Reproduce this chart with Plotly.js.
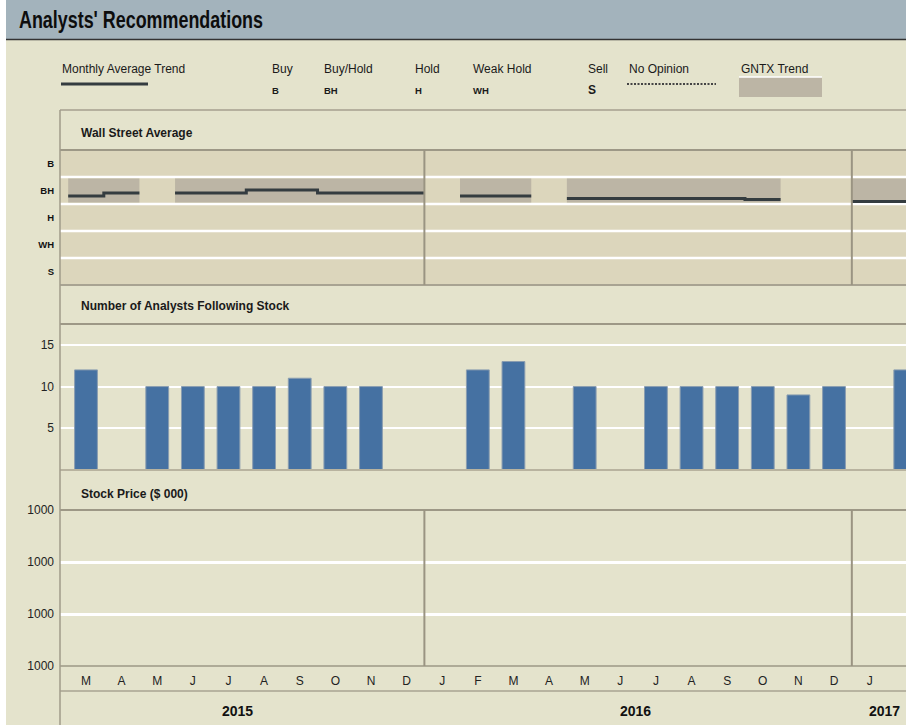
<!DOCTYPE html>
<html>
<head>
<meta charset="utf-8">
<script src="https://cdn.plot.ly/plotly-3.0.1.min.js"></script>
<style>html,body{margin:0;padding:0;background:#fff;}#chart{width:906px;height:725px;}</style>
</head>
<body>
<div id="chart"></div>
<script>
// ---- data (month index 0 = Mar 2015) ----
const monthLabels = ['M','A','M','J','J','A','S','O','N','D','J','F','M','A','M','J','J','A','S','O','N','D','J','F'];
const analystCounts = [12, null, 10, 10, 10, 10, 11, 10, 10, null, null, 12, 13, null, 10, null, 10, 10, 10, 10, 9, 10, null, 12];
const monthlyTrend = [3.80, 3.91, null, 3.91, 3.91, 4.02, 4.02, 3.91, 3.91, 3.91, null, 3.80, 3.80, null, 3.70, 3.70, 3.70, 3.70, 3.70, 3.67, null, null, 3.59, 3.59];
const gntxTrendLow = 3.56;
const gntxTrendHigh = 4.44;
const ratingLabels = ['B','BH','H','WH','S'];
const ratingValues = [5,4,3,2,1];
const priceTickVals = [0,1,2,3];
const priceTickText = ['1000','1000','1000','1000'];
const yearLabels = ['2015','2016','2017'];
const yearPos = [4.24, 15.44, 22.43];
const yearDividers = [9.5, 21.5];

// ---- helpers: pixel -> paper ----
const W = 906, H = 725;
const P = x => x / W;
const Q = y => 1 - y / H;

const idx = monthLabels.map((_, i) => i);

// step line from monthly trend
const tx = [], ty = [];
monthlyTrend.forEach((v, i) => {
  if (v === null) { tx.push(null); ty.push(null); return; }
  tx.push(i - 0.5, i + 0.5); ty.push(v, v);
});
// GNTX band polygons over contiguous months with a trend value
const bx = [], by = [];
let runStart = null;
monthlyTrend.forEach((v, i) => {
  if (v !== null && runStart === null) runStart = i;
  const endRun = runStart !== null && (i === monthlyTrend.length - 1 || monthlyTrend[i + 1] === null);
  if (v !== null && endRun) {
    const a = runStart - 0.5, b = i + 0.5;
    bx.push(a, a, b, b, a, null); by.push(gntxTrendLow, gntxTrendHigh, gntxTrendHigh, gntxTrendLow, gntxTrendLow, null);
    runStart = null;
  }
});

const barX = idx.filter(i => analystCounts[i] !== null);
const barY = barX.map(i => analystCounts[i]);

const traces = [
  {type:'scatter', x:[0], y:[null], xaxis:'x', yaxis:'y', showlegend:false, hoverinfo:'skip'},
  {type:'scatter', mode:'none', x:bx, y:by, fill:'toself', fillcolor:'#bcb5a5', xaxis:'x', yaxis:'y2', showlegend:false, hoverinfo:'skip'},
  {type:'scatter', mode:'lines', x:tx, y:ty, xaxis:'x', yaxis:'y2', connectgaps:false,
   line:{color:'#343c40', width:3}, showlegend:false, hoverinfo:'skip'},
  {type:'bar', x:barX, y:barY, width:0.64, xaxis:'x', yaxis:'y3',
   marker:{color:'#4571a2', line:{color:'#8a9db0', width:1}}, showlegend:false}
];

const border = '#a09b8a';
const shapes = [];
shapes.push({type:'rect', xref:'paper', yref:'paper', x0:0, x1:P(6), y0:0, y1:1, fillcolor:'#ffffff', line:{width:0}, layer:'below'});
shapes.push({type:'rect', xref:'paper', yref:'paper', x0:P(6), x1:1, y0:Q(39), y1:1, fillcolor:'#a3b3bc', line:{width:0}, layer:'below'});
shapes.push({type:'line', xref:'paper', yref:'paper', x0:P(6), x1:1, y0:Q(39.5), y1:Q(39.5), line:{color:'#333333', width:1.5}});
shapes.push({type:'rect', xref:'paper', yref:'paper', x0:P(60), x1:1, y0:Q(285), y1:Q(150), fillcolor:'#dcd6bc', line:{width:0}, layer:'below'});
[1.5,2.5,3.5,4.5].forEach(v => shapes.push({type:'line', xref:'paper', yref:'y2', x0:P(60), x1:1, y0:v, y1:v, line:{color:'#ffffff', width:2.5}, layer:'below'}));
const hlines = [[110,'#b5b09e',2],[150,'#9d9886',2],[285,'#a8a392',2],[324,'#9d9886',2],[470,'#b8b39f',2],[510,'#9d9886',2],[666,'#9d9886',1.5],[691,'#a8a392',1.5]];
hlines.forEach(h => shapes.push({type:'line', xref:'paper', yref:'paper', x0:P(60), x1:1, y0:Q(h[0]), y1:Q(h[0]), line:{color:h[1], width:h[2]}}));
shapes.push({type:'line', xref:'paper', yref:'paper', x0:P(60), x1:P(60), y0:0, y1:Q(110), line:{color:border, width:1.5}});
yearDividers.forEach(d => {
  shapes.push({type:'line', xref:'x', yref:'paper', x0:d, x1:d, y0:Q(285), y1:Q(150), line:{color:'#9a9482', width:2}});
  shapes.push({type:'line', xref:'x', yref:'paper', x0:d, x1:d, y0:Q(666), y1:Q(510), line:{color:'#9a9482', width:2}});
});
shapes.push({type:'line', xref:'paper', yref:'paper', x0:P(61), x1:P(148), y0:Q(84), y1:Q(84), line:{color:'#343c40', width:3}});
shapes.push({type:'line', xref:'paper', yref:'paper', x0:P(627), x1:P(716), y0:Q(84), y1:Q(84), line:{color:'#444444', width:2, dash:'2px,1.5px'}});
shapes.push({type:'rect', xref:'paper', yref:'paper', x0:P(739), x1:P(822), y0:Q(97), y1:Q(77), fillcolor:'#bcb5a5', line:{width:0}});
shapes.push({type:'line', xref:'paper', yref:'paper', x0:P(739), x1:P(822), y0:Q(77), y1:Q(77), line:{color:'#ffffff', width:1.5}});

const F = 'Liberation Sans, Arial, sans-serif';
const ann = [];
const txt = (t, x, y, size, opts) => ann.push(Object.assign({text:t, xref:'paper', yref:'paper', x:P(x), y:Q(y), xanchor:'left', yanchor:'middle', align:'left', showarrow:false, font:{family:F, size:size, color:'#1a1a1a'}}, opts || {}));

txt("<b>Analysts' Recommendations</b>", 17, 20, 23, {font:{family:F, size:23, color:'#0d0d0d'}});
txt('Monthly Average Trend', 60, 69, 12);
const legItems = [['Buy','B',270],['Buy/Hold','BH',322],['Hold','H',413],['Weak Hold','WH',471],['Sell','S',586],['No Opinion',null,627],['GNTX Trend',null,739]];
legItems.forEach(l => {
  txt(l[0], l[2], 69, 12);
  if (l[1]) txt('<b>' + l[1] + '</b>', l[2], l[1] === 'S' ? 90 : 91, l[1] === 'S' ? 12 : 9.5);
});
txt('<b>Wall Street Average</b>', 79, 133, 12);
txt('<b>Number of Analysts Following Stock</b>', 79, 306, 12);
txt('<b>Stock Price ($ 000)</b>', 79, 494, 12);
yearLabels.forEach((y, i) => ann.push({text:'<b>' + y + '</b>', xref:'x', yref:'paper', x:yearPos[i], y:Q(711), xanchor:'center', yanchor:'middle', showarrow:false, font:{family:F, size:14, color:'#111'}}));

const xr0 = (60 - 86) / 35.62, xr1 = (906 - 86) / 35.62;
const layout = {
  width: W, height: H,
  margin: {l:0, r:0, t:0, b:0, pad:0},
  paper_bgcolor: '#e4e3cc',
  plot_bgcolor: 'rgba(0,0,0,0)',
  showlegend: false,
  font: {family: F, color:'#222'},
  xaxis: {domain:[P(60), 1], range:[xr0, xr1], anchor:'y', tickmode:'array', tickvals:idx, ticktext:monthLabels,
          showgrid:false, zeroline:false, showline:false, ticks:'', ticklabelstandoff:6, tickfont:{family:F, size:12, color:'#222'}},
  yaxis: {domain:[Q(666), Q(510)], range:[0,3], anchor:'x', tickmode:'array', tickvals:priceTickVals, ticktext:priceTickText,
          showgrid:true, gridcolor:'#ffffff', gridwidth:3, zeroline:false, showline:false, ticks:'', ticklabelstandoff:5, tickfont:{family:F, size:12, color:'#222'}},
  yaxis2: {domain:[Q(285), Q(150)], range:[0.5,5.5], anchor:'x', tickmode:'array', tickvals:ratingValues, ticktext:ratingLabels.map(s => '<b>' + s + '</b>'),
           showgrid:false, zeroline:false, showline:false, ticks:'', ticklabelstandoff:5, tickfont:{family:F, size:9.5, color:'#111'}},
  yaxis3: {domain:[Q(470), Q(324)], range:[0,17.5], anchor:'x', tickmode:'array', tickvals:[5,10,15],
           showgrid:true, gridcolor:'#ffffff', gridwidth:2, zeroline:false, showline:false, ticks:'', ticklabelstandoff:5, tickfont:{family:F, size:12, color:'#222'}},
  shapes: shapes,
  annotations: ann
};
Plotly.newPlot('chart', traces, layout, {displayModeBar:false, staticPlot:true}).then(gd => {
  // condense the header title like the original narrow typeface
  gd.querySelectorAll('.annotation-text').forEach(t => {
    if (t.textContent.indexOf('Analysts') === 0) {
      t.setAttribute('textLength', '244');
      t.setAttribute('lengthAdjust', 'spacingAndGlyphs');
    }
  });
});
</script>
</body>
</html>
